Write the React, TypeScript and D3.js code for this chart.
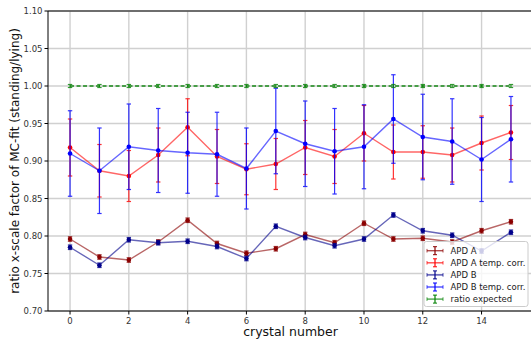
import React from "react";
import * as d3 from "d3";

// crystal indices 0..15
const crystals = [0, 1, 2, 3, 4, 5, 6, 7, 8, 9, 10, 11, 12, 13, 14, 15];

const apdA = [0.796, 0.772, 0.768, 0.792, 0.821, 0.790, 0.777, 0.783, 0.802, 0.791, 0.817, 0.796, 0.797, 0.792, 0.807, 0.819];
const apdAErr = [0.003, 0.003, 0.003, 0.003, 0.003, 0.003, 0.003, 0.003, 0.003, 0.003, 0.003, 0.003, 0.003, 0.003, 0.003, 0.003];

const apdATemp = [0.918, 0.887, 0.880, 0.908, 0.945, 0.906, 0.889, 0.896, 0.918, 0.906, 0.937, 0.912, 0.912, 0.908, 0.924, 0.938];
const apdATempErr = [0.038, 0.035, 0.034, 0.036, 0.038, 0.036, 0.034, 0.034, 0.036, 0.036, 0.037, 0.036, 0.035, 0.036, 0.036, 0.036];

const apdB = [0.785, 0.761, 0.795, 0.791, 0.793, 0.786, 0.770, 0.813, 0.798, 0.787, 0.796, 0.828, 0.807, 0.801, 0.780, 0.805];
const apdBErr = [0.003, 0.003, 0.003, 0.003, 0.003, 0.003, 0.003, 0.003, 0.003, 0.003, 0.003, 0.003, 0.003, 0.003, 0.003, 0.003];

const apdBTemp = [0.910, 0.887, 0.919, 0.914, 0.911, 0.909, 0.890, 0.940, 0.923, 0.913, 0.919, 0.956, 0.932, 0.926, 0.902, 0.929];
const apdBTempErr = [0.057, 0.057, 0.057, 0.056, 0.054, 0.056, 0.054, 0.057, 0.057, 0.057, 0.056, 0.059, 0.057, 0.057, 0.056, 0.057];

const expected = [1, 1, 1, 1, 1, 1, 1, 1, 1, 1, 1, 1, 1, 1, 1, 1];
const expectedErr = [0.002, 0.002, 0.002, 0.002, 0.002, 0.002, 0.002, 0.002, 0.002, 0.002, 0.002, 0.002, 0.002, 0.002, 0.002, 0.002];

const xTicks = [0, 2, 4, 6, 8, 10, 12, 14];
const yTicks = [0.7, 0.75, 0.8, 0.85, 0.9, 0.95, 1.0, 1.05, 1.1];

const legendLabels = ["APD A", "APD A temp. corr.", "APD B", "APD B temp. corr.", "ratio expected"];

type Series = {
  label: string;
  values: number[];
  errors: number[];
  color: string;
  dashed?: boolean;
  marker: boolean;
};

const series: Series[] = [
  { label: legendLabels[0], values: apdA, errors: apdAErr, color: "#8b0000", marker: true },
  { label: legendLabels[1], values: apdATemp, errors: apdATempErr, color: "#ff0000", marker: true },
  { label: legendLabels[2], values: apdB, errors: apdBErr, color: "#00008b", marker: true },
  { label: legendLabels[3], values: apdBTemp, errors: apdBTempErr, color: "#0000ff", marker: true },
  { label: legendLabels[4], values: expected, errors: expectedErr, color: "#008000", dashed: true, marker: false },
];

const font = "DejaVu Sans, sans-serif";

export default function App() {
  const W = 531;
  const H = 340;
  const left = 48;
  const right = 533;
  const top = 11;
  const bottom = 311;

  const x = d3.scaleLinear().domain([-0.75, 15.75]).range([left, right]);
  const y = d3.scaleLinear().domain([0.7, 1.1]).range([bottom, top]);

  const line = d3
    .line<number>()
    .x((_, i) => x(crystals[i]))
    .y((d) => y(d));

  const cap = 2.2;

  return (
    <svg
      width={W}
      height={H}
      style={{ position: "absolute", left: 0, top: 0, background: "#fff" }}
      fontFamily={font}
    >
      <defs>
        <clipPath id="plotArea">
          <rect x={left} y={top} width={right - left} height={bottom - top} />
        </clipPath>
      </defs>

      {/* grid */}
      <g stroke="#d0d0d0" strokeWidth={1.4}>
        {xTicks.map((t) => (
          <line key={`gx${t}`} x1={x(t)} x2={x(t)} y1={top} y2={bottom} />
        ))}
        {yTicks.map((t) => (
          <line key={`gy${t}`} x1={left} x2={right} y1={y(t)} y2={y(t)} />
        ))}
      </g>

      {/* series */}
      <g clipPath="url(#plotArea)">
        {series.map((s) => (
          <g key={s.label}>
            {s.values.map((v, i) => {
              const cx = x(crystals[i]);
              const y0 = y(v - s.errors[i]);
              const y1 = y(v + s.errors[i]);
              return (
                <g key={i} stroke={s.color} strokeWidth={1.2} opacity={0.8}>
                  <line x1={cx} x2={cx} y1={y0} y2={y1} />
                  <line x1={cx - cap} x2={cx + cap} y1={y0} y2={y0} />
                  <line x1={cx - cap} x2={cx + cap} y1={y1} y2={y1} />
                </g>
              );
            })}
            <path
              d={line(s.values) ?? ""}
              fill="none"
              stroke={s.color}
              strokeWidth={1.4}
              strokeOpacity={s.dashed ? 0.9 : 0.6}
              strokeDasharray={s.dashed ? "4,2.5" : undefined}
            />
            {s.marker &&
              s.values.map((v, i) => (
                <circle key={`m${i}`} cx={x(crystals[i])} cy={y(v)} r={2.3} fill={s.color} />
              ))}
          </g>
        ))}
      </g>

      {/* spines */}
      <g stroke="#000" strokeWidth={1}>
        <line x1={left} x2={left} y1={top} y2={bottom} />
        <line x1={left} x2={right} y1={bottom} y2={bottom} />
        <line x1={left} x2={right} y1={top} y2={top} />
      </g>

      {/* x axis */}
      <g fontSize={8.5} fill="#333" textAnchor="middle">
        {xTicks.map((t) => (
          <g key={`xt${t}`}>
            <line x1={x(t)} x2={x(t)} y1={bottom} y2={bottom + 3.5} stroke="#000" />
            <text x={x(t)} y={bottom + 12.5}>
              {t}
            </text>
          </g>
        ))}
      </g>
      <text x={(left + right) / 2} y={336} fontSize={12.5} textAnchor="middle" fill="#111">
        crystal number
      </text>

      {/* y axis */}
      <g fontSize={8.5} fill="#333" textAnchor="end">
        {yTicks.map((t) => (
          <g key={`yt${t}`}>
            <line x1={left - 3.5} x2={left} y1={y(t)} y2={y(t)} stroke="#000" />
            <text x={left - 5.5} y={y(t) + 3}>
              {d3.format(".2f")(t)}
            </text>
          </g>
        ))}
      </g>
      <text
        transform={`translate(19, ${(top + bottom) / 2}) rotate(-90)`}
        fontSize={12}
        textAnchor="middle"
        fill="#111"
      >
        ratio x-scale factor of MC-fit (standing/lying)
      </text>

      {/* legend */}
      <g>
        <rect
          x={424}
          y={241.5}
          width={104}
          height={65}
          rx={2.5}
          fill="#fff"
          fillOpacity={0.8}
          stroke="#ccc"
          strokeWidth={1}
        />
        {series.map((s, i) => {
          const ly = 250.7 + i * 12.1;
          const hx0 = 427;
          const hx1 = 443;
          const hm = (hx0 + hx1) / 2;
          return (
            <g key={`lg${i}`}>
              <line x1={hx0} x2={hx1} y1={ly} y2={ly} stroke={s.color} strokeWidth={1.4} strokeOpacity={0.7} />
              <line x1={hx0} x2={hx0} y1={ly - 1.8} y2={ly + 1.8} stroke={s.color} strokeWidth={1} strokeOpacity={0.7} />
              <line x1={hx1} x2={hx1} y1={ly - 1.8} y2={ly + 1.8} stroke={s.color} strokeWidth={1} strokeOpacity={0.7} />
              <line x1={hm} x2={hm} y1={ly - 4} y2={ly + 4} stroke={s.color} strokeWidth={1.2} />
              <line x1={hm - 2} x2={hm + 2} y1={ly - 4} y2={ly - 4} stroke={s.color} strokeWidth={1} />
              <line x1={hm - 2} x2={hm + 2} y1={ly + 4} y2={ly + 4} stroke={s.color} strokeWidth={1} />
              <text x={450.5} y={ly + 3} fontSize={8.5} fill="#222">
                {s.label}
              </text>
            </g>
          );
        })}
      </g>
    </svg>
  );
}
